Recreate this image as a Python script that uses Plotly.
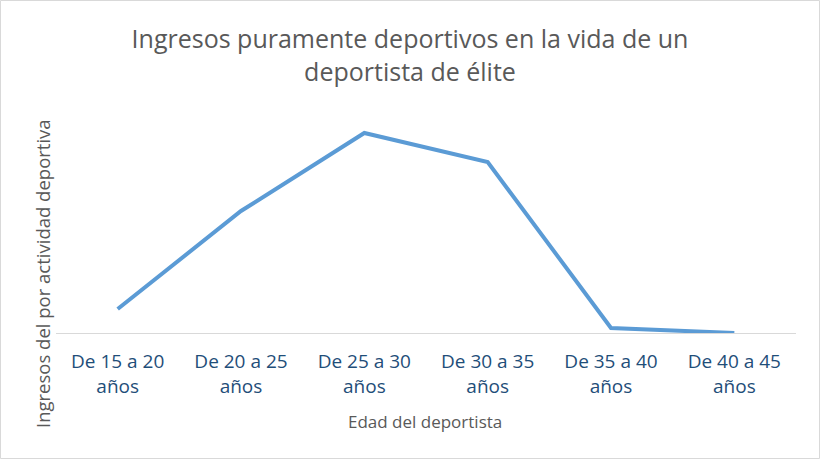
import plotly.graph_objects as go

categories = ["De 15 a 20<br>años", "De 20 a 25<br>años", "De 25 a 30<br>años",
              "De 30 a 35<br>años", "De 35 a 40<br>años", "De 40 a 45<br>años"]
ingresos = [24, 122, 200, 171, 5, 0]

W, H = 820, 459
L, R, T, B = 56, 24, 110, 126
pw, ph = W - L - R, H - T - B

fig = go.Figure()
fig.add_trace(go.Scatter(x=categories, y=ingresos, mode="lines",
                         line=dict(color="#5B9BD5", width=4), hoverinfo="skip"))

def px_x(x):
    return (x - L) / pw

def px_y(y):
    return (H - B - y) / ph

fig.update_layout(
    width=W, height=H,
    margin=dict(l=L, r=R, t=T, b=B),
    paper_bgcolor="white", plot_bgcolor="white",
    showlegend=False,
    font=dict(family="Open Sans, sans-serif"),
    title=dict(text="Ingresos puramente deportivos en la vida de un<br>deportista de élite",
               x=0.5, xanchor="center", y=1 - 48 / H, yanchor="middle",
               font=dict(size=25, color="#595959")),
    xaxis=dict(showgrid=False, zeroline=False, showline=True, linecolor="#D9D9D9",
               linewidth=1, ticks="", tickfont=dict(size=19, color="#1F4E79"),
               ticklabelstandoff=11, range=[-0.5, 5.5]),
    yaxis=dict(showgrid=False, zeroline=False, showline=False, showticklabels=False,
               range=[0, 223]),
    shapes=[dict(type="rect", xref="paper", yref="paper",
                 x0=px_x(0.5), x1=px_x(W - 0.5), y0=px_y(0.5), y1=px_y(H - 0.5),
                 line=dict(color="#D9D9D9", width=1))],
    annotations=[
        dict(text="Edad del deportista", xref="paper", yref="paper",
             x=px_x(425), y=px_y(421), xanchor="center", yanchor="middle",
             showarrow=False, font=dict(size=17, color="#595959")),
        dict(text="Ingresos del por actividad deportiva", xref="paper", yref="paper",
             x=px_x(42), y=px_y(274), xanchor="center", yanchor="middle",
             textangle=-90, showarrow=False, font=dict(size=18.5, color="#595959")),
    ],
)

fig.write_html("out.html")
